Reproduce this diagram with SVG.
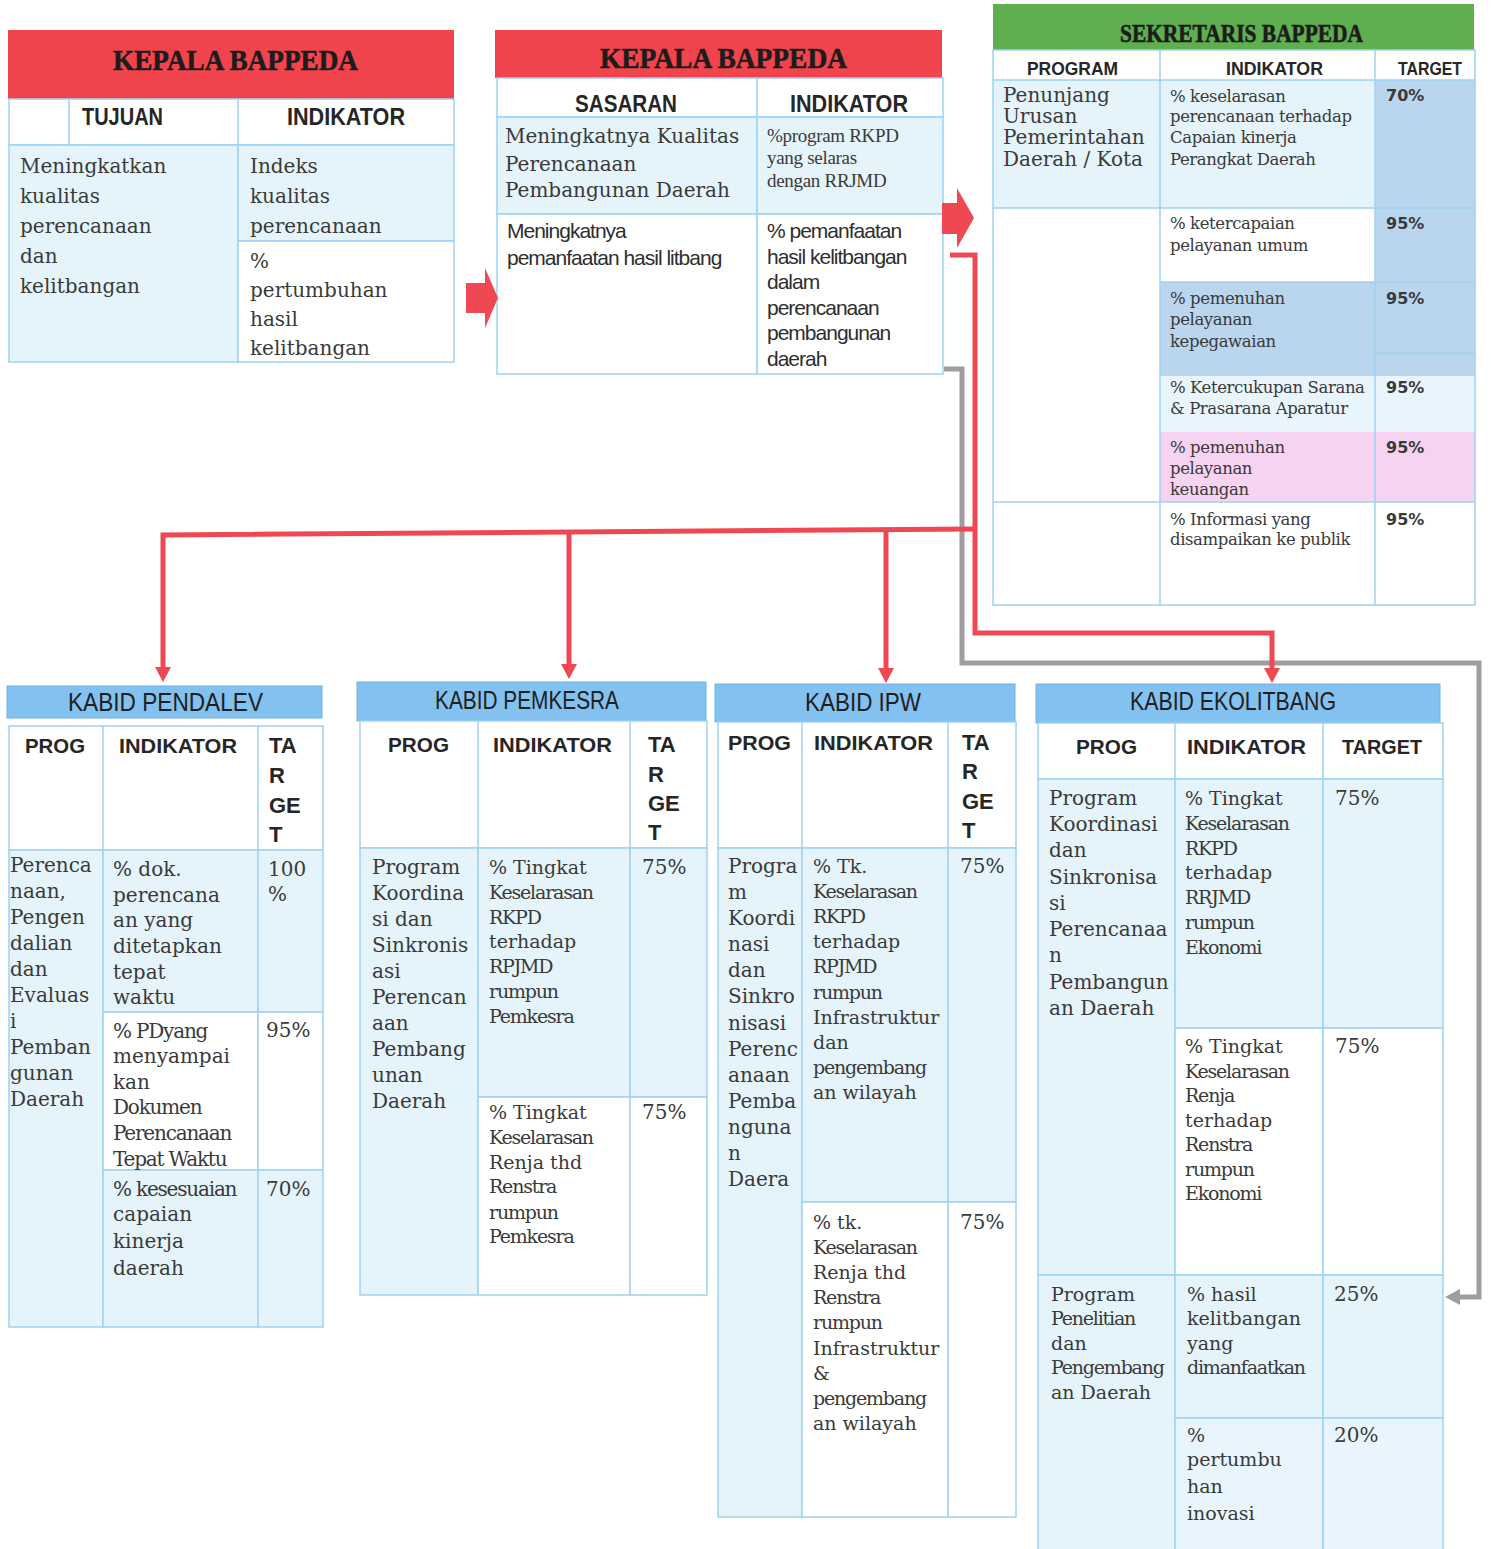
<svg xmlns="http://www.w3.org/2000/svg" width="1491" height="1549" viewBox="0 0 1491 1549">
<defs>
<style>
.t{font-family:"Liberation Serif","Times New Roman",serif;font-weight:bold;fill:#1c1c1c;stroke:#1c1c1c;stroke-width:0.6}
.h{font-family:"Liberation Sans",Arial,sans-serif;font-weight:bold;fill:#262626}
.kh{font-family:"Liberation Sans",Arial,sans-serif;fill:#202020}
.b{font-family:"DejaVu Serif",serif;fill:#3a3a3a;font-size:20px}
.i{font-family:"DejaVu Serif",serif;fill:#3a3a3a;font-size:19px}
.si{font-family:"DejaVu Serif",serif;fill:#3a3a3a;font-size:16.5px;letter-spacing:-0.4px}
.ti{letter-spacing:-1.2px}
.lsr{font-family:"Liberation Serif","Times New Roman",serif;fill:#3a3a3a;font-size:19px;letter-spacing:-0.3px}
.s{font-family:"Liberation Sans",Arial,sans-serif;fill:#2e2e2e;font-size:21px;letter-spacing:-1px}
.p{font-family:"DejaVu Sans",sans-serif;font-weight:bold;fill:#3a3a3a;font-size:16px}
.c{stroke:#9fd2f2;stroke-width:1.5}
.ln{stroke:#9fd2f2;stroke-width:1.5;fill:none}
.lb{fill:#e5f3fb}
.lb2{fill:#e9f5fc}
.dk{fill:#bad5ee}
.pk{fill:#f6d4f1}
.wh{fill:#ffffff}
.kb{fill:#82c1f0;stroke:#6fb3e8;stroke-width:1}
.red{fill:#f2444d}
.grn{fill:#5fae4f}
.conR{fill:none;stroke:#f04852;stroke-width:5}
.conG{fill:none;stroke:#a09ca0;stroke-width:5}
.redF{fill:#f04852}
</style>
<marker id="ar" markerUnits="userSpaceOnUse" markerWidth="15" markerHeight="16" viewBox="0 0 15 16" refX="0" refY="8" orient="auto">
<path d="M0,0 L15,8 L0,16 z" fill="#f04852"/>
</marker>
<marker id="ag" markerUnits="userSpaceOnUse" markerWidth="15" markerHeight="16" viewBox="0 0 15 16" refX="0" refY="8" orient="auto">
<path d="M0,0 L15,8 L0,16 z" fill="#a09ca0"/>
</marker>
</defs>
<rect x="0" y="0" width="1491" height="1549" fill="#ffffff"/>

<g id="kepala-tujuan">
<rect x="8" y="30" width="446" height="69" class="red"/>
<text class="t" x="113" y="70" font-size="29" textLength="245" lengthAdjust="spacingAndGlyphs">KEPALA BAPPEDA</text>
<rect x="9" y="99" width="445" height="46" class="wh c"/>
<line x1="69" y1="99" x2="69" y2="145" class="ln"/>
<line x1="238" y1="99" x2="238" y2="145" class="ln"/>
<rect x="9" y="145" width="229" height="217" class="lb c"/>
<rect x="238" y="145" width="216" height="96" class="lb c"/>
<rect x="238" y="241" width="216" height="121" class="wh c"/>
<text class="h" x="82" y="125" font-size="24" textLength="81" lengthAdjust="spacingAndGlyphs">TUJUAN</text>
<text class="h" x="287" y="125" font-size="24" textLength="118" lengthAdjust="spacingAndGlyphs">INDIKATOR</text>
<text class="b" font-size="22"><tspan x="20" y="173">Meningkatkan</tspan><tspan x="20" y="203">kualitas</tspan><tspan x="20" y="233">perencanaan</tspan><tspan x="20" y="263">dan</tspan><tspan x="20" y="293">kelitbangan</tspan></text>
<text class="b" font-size="22"><tspan x="250" y="173">Indeks</tspan><tspan x="250" y="203">kualitas</tspan><tspan x="250" y="233">perencanaan</tspan><tspan x="250" y="268">%</tspan><tspan x="250" y="297">pertumbuhan</tspan><tspan x="250" y="326">hasil</tspan><tspan x="250" y="355">kelitbangan</tspan></text>
</g>

<g id="kepala-sasaran">
<rect x="495" y="30" width="447" height="48" class="red"/>
<text class="t" x="600" y="68" font-size="29" textLength="247" lengthAdjust="spacingAndGlyphs">KEPALA BAPPEDA</text>
<rect x="497" y="78" width="446" height="39" class="wh c"/>
<line x1="757" y1="78" x2="757" y2="117" class="ln"/>
<rect x="497" y="117" width="260" height="97" class="lb c"/>
<rect x="757" y="117" width="186" height="97" class="lb c"/>
<rect x="497" y="214" width="260" height="160" class="wh c"/>
<rect x="757" y="214" width="186" height="160" class="wh c"/>
<text class="h" x="575" y="112" font-size="23" textLength="102" lengthAdjust="spacingAndGlyphs">SASARAN</text>
<text class="h" x="790" y="112" font-size="23" textLength="118" lengthAdjust="spacingAndGlyphs">INDIKATOR</text>
<text class="b" font-size="18.5"><tspan x="505" y="143">Meningkatnya Kualitas</tspan><tspan x="505" y="171">Perencanaan</tspan><tspan x="505" y="197">Pembangunan  Daerah</tspan></text>
<text class="lsr"><tspan x="767" y="142">%program RKPD</tspan><tspan x="767" y="164">yang selaras</tspan><tspan x="767" y="187">dengan RRJMD</tspan></text>
<text class="s"><tspan x="507" y="238">Meningkatnya</tspan><tspan x="507" y="265">pemanfaatan hasil  litbang</tspan></text>
<text class="s"><tspan x="767" y="238">% pemanfaatan</tspan><tspan x="767" y="264">hasil kelitbangan</tspan><tspan x="767" y="289">dalam</tspan><tspan x="767" y="315">perencanaan</tspan><tspan x="767" y="340">pembangunan</tspan><tspan x="767" y="366">daerah</tspan></text>
</g>

<g id="sekretaris">
<rect x="993" y="4" width="481" height="46" class="grn"/>
<text class="t" x="1120" y="42" font-size="25" textLength="243" lengthAdjust="spacingAndGlyphs">SEKRETARIS BAPPEDA</text>
<rect x="993" y="50" width="482" height="30" class="wh"/>
<rect x="993" y="80" width="167" height="128" class="lb"/>
<rect x="1160" y="80" width="215" height="128" class="lb"/>
<rect x="1375" y="80" width="100" height="296" class="dk"/>
<rect x="993" y="208" width="167" height="294" class="wh"/>
<rect x="1160" y="208" width="215" height="74" class="wh"/>
<rect x="1160" y="282" width="215" height="94" class="dk"/>
<rect x="1160" y="376" width="315" height="56" class="lb2"/>
<rect x="1160" y="432" width="315" height="70" class="pk"/>
<rect x="993" y="502" width="482" height="103" class="wh"/>
<rect x="993" y="50" width="482" height="555" class="ln"/>
<line x1="993" y1="80" x2="1475" y2="80" class="ln"/>
<line x1="993" y1="208" x2="1475" y2="208" class="ln"/>
<line x1="1160" y1="282" x2="1475" y2="282" class="ln"/>
<line x1="1375" y1="353" x2="1475" y2="353" class="ln"/>
<line x1="993" y1="502" x2="1475" y2="502" class="ln"/>
<line x1="1160" y1="50" x2="1160" y2="605" class="ln"/>
<line x1="1375" y1="50" x2="1375" y2="605" class="ln"/>
<text class="h" x="1027" y="75" font-size="19" textLength="91" lengthAdjust="spacingAndGlyphs">PROGRAM</text>
<text class="h" x="1226" y="75" font-size="19" textLength="97" lengthAdjust="spacingAndGlyphs">INDIKATOR</text>
<text class="h" x="1398" y="75" font-size="19" textLength="64" lengthAdjust="spacingAndGlyphs">TARGET</text>
<text class="b" font-size="17.5"><tspan x="1003" y="102">Penunjang</tspan><tspan x="1003" y="123">Urusan</tspan><tspan x="1003" y="144">Pemerintahan</tspan><tspan x="1003" y="166">Daerah / Kota</tspan></text>
<text class="si"><tspan x="1170" y="102">% keselarasan</tspan><tspan x="1170" y="122">perencanaan terhadap</tspan><tspan x="1170" y="143">Capaian kinerja</tspan><tspan x="1170" y="165">Perangkat Daerah</tspan></text>
<text class="si"><tspan x="1170" y="229">% ketercapaian</tspan><tspan x="1170" y="251">pelayanan  umum</tspan></text>
<text class="si"><tspan x="1170" y="304">% pemenuhan</tspan><tspan x="1170" y="325">pelayanan</tspan><tspan x="1170" y="347">kepegawaian</tspan></text>
<text class="si"><tspan x="1170" y="393">%  Ketercukupan Sarana</tspan><tspan x="1170" y="414">&amp; Prasarana Aparatur</tspan></text>
<text class="si"><tspan x="1170" y="453">% pemenuhan</tspan><tspan x="1170" y="474">pelayanan</tspan><tspan x="1170" y="495">keuangan</tspan></text>
<text class="si"><tspan x="1170" y="525">% Informasi yang</tspan><tspan x="1170" y="545">disampaikan ke publik</tspan></text>
<text class="p" x="1386" y="101">70%</text>
<text class="p" x="1386" y="229">95%</text>
<text class="p" x="1386" y="304">95%</text>
<text class="p" x="1386" y="393">95%</text>
<text class="p" x="1386" y="453">95%</text>
<text class="p" x="1386" y="525">95%</text>
</g>

<g id="kabid-pendalev">
<rect x="7" y="686" width="315" height="32" class="kb"/>
<text class="kh" x="68" y="711" font-size="26" textLength="195" lengthAdjust="spacingAndGlyphs">KABID PENDALEV</text>
<rect x="9" y="726" width="314" height="124" class="wh c"/>
<line x1="103" y1="726" x2="103" y2="850" class="ln"/>
<line x1="258" y1="726" x2="258" y2="850" class="ln"/>
<rect x="9" y="850" width="94" height="477" class="lb c"/>
<rect x="103" y="850" width="155" height="162" class="lb c"/>
<rect x="258" y="850" width="65" height="162" class="lb c"/>
<rect x="103" y="1012" width="155" height="158" class="wh c"/>
<rect x="258" y="1012" width="65" height="158" class="wh c"/>
<rect x="103" y="1170" width="155" height="157" class="lb c"/>
<rect x="258" y="1170" width="65" height="157" class="lb c"/>
<text class="h" x="25" y="753" font-size="21" textLength="60" lengthAdjust="spacingAndGlyphs">PROG</text>
<text class="h" x="119" y="753" font-size="21" textLength="118" lengthAdjust="spacingAndGlyphs">INDIKATOR</text>
<text class="h" font-size="22"><tspan x="269" y="753">TA</tspan><tspan x="269" y="783">R</tspan><tspan x="269" y="813">GE</tspan><tspan x="269" y="842">T</tspan></text>
<text class="b"><tspan x="10" y="872">Perenca</tspan><tspan x="10" y="898">naan,</tspan><tspan x="10" y="924">Pengen</tspan><tspan x="10" y="950">dalian</tspan><tspan x="10" y="976">dan</tspan><tspan x="10" y="1002">Evaluas</tspan><tspan x="10" y="1028">i</tspan><tspan x="10" y="1054">Pemban</tspan><tspan x="10" y="1080">gunan</tspan><tspan x="10" y="1106">Daerah</tspan></text>
<text class="b"><tspan x="113" y="876">% dok.</tspan><tspan x="113" y="902">perencana</tspan><tspan x="113" y="927">an  yang</tspan><tspan x="113" y="953">ditetapkan</tspan><tspan x="113" y="979">tepat</tspan><tspan x="113" y="1004">waktu</tspan></text>
<text class="b"><tspan x="113" y="1038" class="ti">% PDyang</tspan><tspan x="113" y="1063">menyampai</tspan><tspan x="113" y="1089">kan</tspan><tspan x="113" y="1114" class="ti">Dokumen</tspan><tspan x="113" y="1140" class="ti">Perencanaan</tspan><tspan x="113" y="1166" class="ti">Tepat Waktu</tspan></text>
<text class="b"><tspan x="113" y="1196" class="ti">% kesesuaian</tspan><tspan x="113" y="1221">capaian</tspan><tspan x="113" y="1248">kinerja</tspan><tspan x="113" y="1275">daerah</tspan></text>
<text class="b"><tspan x="268" y="876">100</tspan><tspan x="268" y="901">%</tspan></text>
<text class="b" x="266" y="1037">95%</text>
<text class="b" x="266" y="1196">70%</text>
</g>

<g id="kabid-pemkesra">
<rect x="357" y="682" width="349" height="39" class="kb"/>
<text class="kh" x="435" y="709" font-size="26" textLength="184" lengthAdjust="spacingAndGlyphs">KABID PEMKESRA</text>
<rect x="360" y="721" width="347" height="127" class="wh c"/>
<line x1="478" y1="721" x2="478" y2="848" class="ln"/>
<line x1="630" y1="721" x2="630" y2="848" class="ln"/>
<rect x="360" y="848" width="118" height="447" class="lb c"/>
<rect x="478" y="848" width="152" height="249" class="lb c"/>
<rect x="630" y="848" width="77" height="249" class="lb c"/>
<rect x="478" y="1097" width="152" height="198" class="wh c"/>
<rect x="630" y="1097" width="77" height="198" class="wh c"/>
<text class="h" x="388" y="752" font-size="21" textLength="61" lengthAdjust="spacingAndGlyphs">PROG</text>
<text class="h" x="493" y="752" font-size="21" textLength="119" lengthAdjust="spacingAndGlyphs">INDIKATOR</text>
<text class="h" font-size="22"><tspan x="648" y="752">TA</tspan><tspan x="648" y="782">R</tspan><tspan x="648" y="811">GE</tspan><tspan x="648" y="840">T</tspan></text>
<text class="b"><tspan x="372" y="874">Program</tspan><tspan x="372" y="900">Koordina</tspan><tspan x="372" y="926">si dan</tspan><tspan x="372" y="952">Sinkronis</tspan><tspan x="372" y="978">asi</tspan><tspan x="372" y="1004">Perencan</tspan><tspan x="372" y="1030">aan</tspan><tspan x="372" y="1056">Pembang</tspan><tspan x="372" y="1082">unan</tspan><tspan x="372" y="1108">Daerah</tspan></text>
<text class="i"><tspan x="489" y="874">% Tingkat</tspan><tspan x="489" y="899" class="ti">Keselarasan</tspan><tspan x="489" y="924" class="ti">RKPD</tspan><tspan x="489" y="948">terhadap</tspan><tspan x="489" y="973" class="ti">RPJMD</tspan><tspan x="489" y="998" class="ti">rumpun</tspan><tspan x="489" y="1023" class="ti">Pemkesra</tspan></text>
<text class="i"><tspan x="489" y="1119">% Tingkat</tspan><tspan x="489" y="1144" class="ti">Keselarasan</tspan><tspan x="489" y="1169">Renja thd</tspan><tspan x="489" y="1193" class="ti">Renstra</tspan><tspan x="489" y="1219" class="ti">rumpun</tspan><tspan x="489" y="1243" class="ti">Pemkesra</tspan></text>
<text class="b" x="642" y="874">75%</text>
<text class="b" x="642" y="1119">75%</text>
</g>

<g id="kabid-ipw">
<rect x="715" y="684" width="300" height="38" class="kb"/>
<text class="kh" x="805" y="711" font-size="26" textLength="116" lengthAdjust="spacingAndGlyphs">KABID IPW</text>
<rect x="718" y="722" width="298" height="126" class="wh c"/>
<line x1="802" y1="722" x2="802" y2="848" class="ln"/>
<line x1="948" y1="722" x2="948" y2="848" class="ln"/>
<rect x="718" y="848" width="84" height="669" class="lb c"/>
<rect x="802" y="848" width="146" height="354" class="lb c"/>
<rect x="948" y="848" width="68" height="354" class="lb c"/>
<rect x="802" y="1202" width="146" height="315" class="wh c"/>
<rect x="948" y="1202" width="68" height="315" class="wh c"/>
<text class="h" x="728" y="750" font-size="21" textLength="63" lengthAdjust="spacingAndGlyphs">PROG</text>
<text class="h" x="814" y="750" font-size="21" textLength="119" lengthAdjust="spacingAndGlyphs">INDIKATOR</text>
<text class="h" font-size="22"><tspan x="962" y="750">TA</tspan><tspan x="962" y="779">R</tspan><tspan x="962" y="809">GE</tspan><tspan x="962" y="838">T</tspan></text>
<text class="b"><tspan x="728" y="873">Progra</tspan><tspan x="728" y="899">m</tspan><tspan x="728" y="925">Koordi</tspan><tspan x="728" y="951">nasi</tspan><tspan x="728" y="977">dan</tspan><tspan x="728" y="1003">Sinkro</tspan><tspan x="728" y="1030">nisasi</tspan><tspan x="728" y="1056">Perenc</tspan><tspan x="728" y="1082">anaan</tspan><tspan x="728" y="1108">Pemba</tspan><tspan x="728" y="1134">nguna</tspan><tspan x="728" y="1160">n</tspan><tspan x="728" y="1186">Daera</tspan></text>
<text class="i"><tspan x="813" y="873">% Tk.</tspan><tspan x="813" y="898" class="ti">Keselarasan</tspan><tspan x="813" y="923" class="ti">RKPD</tspan><tspan x="813" y="948">terhadap</tspan><tspan x="813" y="973" class="ti">RPJMD</tspan><tspan x="813" y="999" class="ti">rumpun</tspan><tspan x="813" y="1024">Infrastruktur</tspan><tspan x="813" y="1049">dan</tspan><tspan x="813" y="1074" class="ti">pengembang</tspan><tspan x="813" y="1099">an wilayah</tspan></text>
<text class="i"><tspan x="813" y="1229">% tk.</tspan><tspan x="813" y="1254" class="ti">Keselarasan</tspan><tspan x="813" y="1279">Renja thd</tspan><tspan x="813" y="1304" class="ti">Renstra</tspan><tspan x="813" y="1329" class="ti">rumpun</tspan><tspan x="813" y="1355">Infrastruktur</tspan><tspan x="813" y="1380">&amp;</tspan><tspan x="813" y="1405" class="ti">pengembang</tspan><tspan x="813" y="1430">an wilayah</tspan></text>
<text class="b" x="960" y="873">75%</text>
<text class="b" x="960" y="1229">75%</text>
</g>

<g id="kabid-ekolitbang">
<rect x="1036" y="684" width="404" height="39" class="kb"/>
<text class="kh" x="1130" y="710" font-size="26" textLength="206" lengthAdjust="spacingAndGlyphs">KABID EKOLITBANG</text>
<rect x="1038" y="723" width="405" height="56" class="wh c"/>
<line x1="1175" y1="723" x2="1175" y2="779" class="ln"/>
<line x1="1323" y1="723" x2="1323" y2="779" class="ln"/>
<rect x="1038" y="779" width="137" height="496" class="lb c"/>
<rect x="1175" y="779" width="148" height="249" class="lb c"/>
<rect x="1323" y="779" width="120" height="249" class="lb c"/>
<rect x="1175" y="1028" width="148" height="247" class="wh c"/>
<rect x="1323" y="1028" width="120" height="247" class="wh c"/>
<rect x="1038" y="1275" width="137" height="285" class="lb c"/>
<rect x="1175" y="1275" width="148" height="143" class="lb c"/>
<rect x="1323" y="1275" width="120" height="143" class="lb c"/>
<rect x="1175" y="1418" width="148" height="142" class="lb2 c"/>
<rect x="1323" y="1418" width="120" height="142" class="lb2 c"/>
<text class="h" x="1076" y="754" font-size="21" textLength="61" lengthAdjust="spacingAndGlyphs">PROG</text>
<text class="h" x="1187" y="754" font-size="21" textLength="119" lengthAdjust="spacingAndGlyphs">INDIKATOR</text>
<text class="h" x="1342" y="754" font-size="21" textLength="80" lengthAdjust="spacingAndGlyphs">TARGET</text>
<text class="b"><tspan x="1049" y="805">Program</tspan><tspan x="1049" y="831">Koordinasi</tspan><tspan x="1049" y="857">dan</tspan><tspan x="1049" y="884">Sinkronisa</tspan><tspan x="1049" y="910">si</tspan><tspan x="1049" y="936">Perencanaa</tspan><tspan x="1049" y="962">n</tspan><tspan x="1049" y="989">Pembangun</tspan><tspan x="1049" y="1015">an Daerah</tspan></text>
<text class="i"><tspan x="1185" y="805">% Tingkat</tspan><tspan x="1185" y="830" class="ti">Keselarasan</tspan><tspan x="1185" y="855" class="ti">RKPD</tspan><tspan x="1185" y="879">terhadap</tspan><tspan x="1185" y="904" class="ti">RRJMD</tspan><tspan x="1185" y="929" class="ti">rumpun</tspan><tspan x="1185" y="954" class="ti">Ekonomi</tspan></text>
<text class="i"><tspan x="1185" y="1053">% Tingkat</tspan><tspan x="1185" y="1078" class="ti">Keselarasan</tspan><tspan x="1185" y="1102" class="ti">Renja</tspan><tspan x="1185" y="1127">terhadap</tspan><tspan x="1185" y="1151" class="ti">Renstra</tspan><tspan x="1185" y="1176" class="ti">rumpun</tspan><tspan x="1185" y="1200" class="ti">Ekonomi</tspan></text>
<text class="b" x="1335" y="805">75%</text>
<text class="b" x="1335" y="1053">75%</text>
<text class="i"><tspan x="1051" y="1301">Program</tspan><tspan x="1051" y="1325" class="ti">Penelitian</tspan><tspan x="1051" y="1350">dan</tspan><tspan x="1051" y="1374" class="ti">Pengembang</tspan><tspan x="1051" y="1399">an Daerah</tspan></text>
<text class="i"><tspan x="1187" y="1301">% hasil</tspan><tspan x="1187" y="1325">kelitbangan</tspan><tspan x="1187" y="1350">yang</tspan><tspan x="1187" y="1374" class="ti">dimanfaatkan</tspan></text>
<text class="b" x="1334" y="1301">25%</text>
<text class="i"><tspan x="1187" y="1442">%</tspan><tspan x="1187" y="1466">pertumbu</tspan><tspan x="1187" y="1493">han</tspan><tspan x="1187" y="1520">inovasi</tspan></text>
<text class="b" x="1334" y="1442">20%</text>
</g>

<g id="connectors">
<polygon class="redF" points="466,283 485,283 485,268 498,298 485,328 485,313 466,313"/>
<polygon class="redF" points="942,203 957,203 957,188 974,218 957,248 957,234 942,234"/>
<path class="conG" d="M944,369 H962 V663 H1479 V1297 H1460" marker-end="url(#ag)"/>
<path class="conR" d="M950,255 H975 V633 H1272 V668" marker-end="url(#ar)"/>
<path class="conR" d="M975,529 L163,535 V667" marker-end="url(#ar)"/>
<path class="conR" d="M569,533 V664" marker-end="url(#ar)"/>
<path class="conR" d="M886,530 V668" marker-end="url(#ar)"/>
</g>
</svg>
